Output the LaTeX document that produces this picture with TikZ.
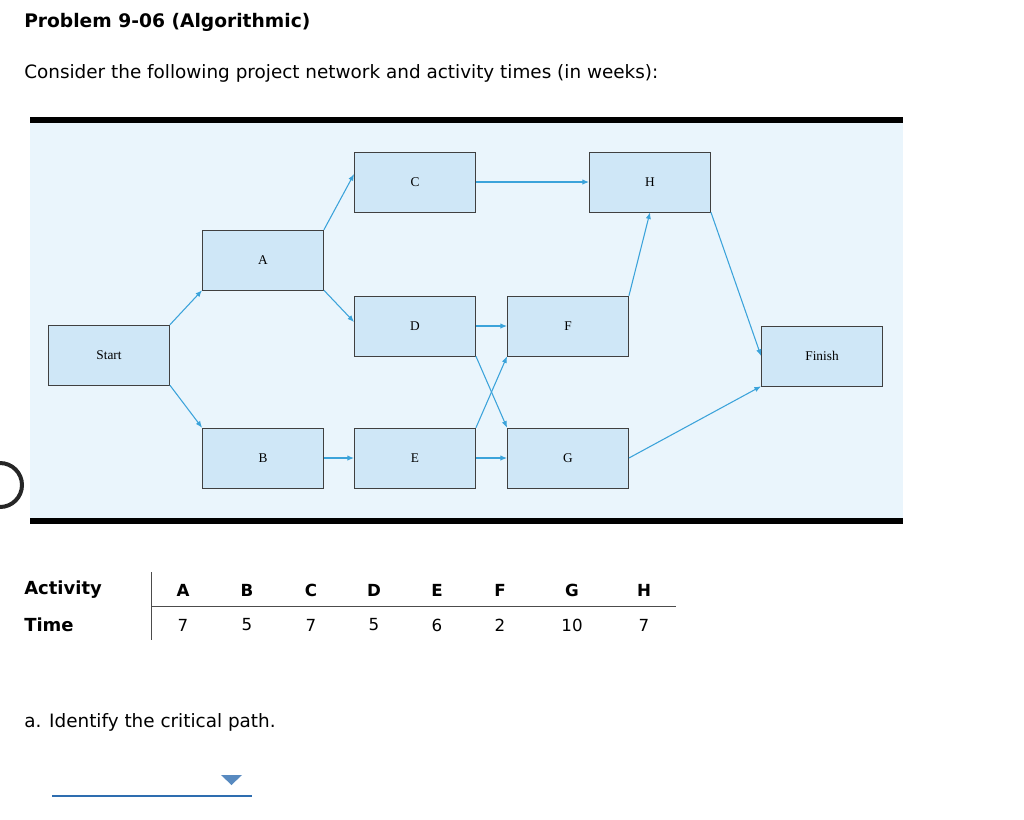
\documentclass[tikz,border=0pt]{standalone}
\usepackage{fontspec}
\usetikzlibrary{arrows.meta}
\setmainfont{DejaVu Sans}
\newfontfamily\boxfont{Liberation Serif}
\begin{document}
\begin{tikzpicture}[x=0.75pt,y=-0.75pt,
  act/.style={draw=black!75,fill=boxblue,minimum width=91pt,minimum height=45pt,inner sep=0pt,font=\boxfont\fontsize{10}{12}\selectfont},
  arr/.style={draw=arrblue,line width=0.8pt,-{Latex[length=5pt,width=4pt]}},
  txt/.style={anchor=west,inner sep=0pt,font=\fontsize{13.8}{16}\selectfont},
  tb/.style={inner sep=0pt,font=\bfseries\fontsize{12.5}{14}\selectfont},
  tn/.style={inner sep=0pt,font=\fontsize{12.5}{14}\selectfont}]
\definecolor{boxblue}{HTML}{CFE7F7}
\definecolor{bgblue}{HTML}{EAF5FC}
\definecolor{arrblue}{HTML}{3BA3DA}
\definecolor{ddblue}{HTML}{2E6DB0}
\useasboundingbox (0,0) rectangle (1024,819);
\fill[bgblue] (30,120) rectangle (903,521);
\draw[line width=4.5pt] (30,120) -- (903,120);
\draw[line width=4.5pt] (30,521) -- (903,521);
\node[txt,font=\bfseries\fontsize{14}{16}\selectfont] (title) at (24,22) {Problem 9-06 (Algorithmic)};
\node[txt] (intro) at (24,73) {Consider the following project network and activity times (in weeks):};
\node[act] (S) at (109,355) {Start};
\node[act] (A) at (263,260) {A};
\node[act] (C) at (415,182) {C};
\node[act] (H) at (650,182) {H};
\node[act] (D) at (415,326) {D};
\node[act] (F) at (568,326) {F};
\node[act] (Fi) at (822,356) {Finish};
\node[act] (B) at (263,458) {B};
\node[act] (E) at (415,458) {E};
\node[act] (G) at (568,458) {G};
\draw[arr] (S.north east) -- (A.south west);
\draw[arr] (S.south east) -- (B.north west);
\draw[arr] (A.north east) -- ([yshift=6pt]C.west);
\draw[arr] (A.south east) -- ([yshift=3pt]D.west);
\draw[arr] (C) -- (H);
\draw[arr] (D) -- (F);
\draw[arr] (D.south east) -- (G.north west);
\draw[arr] (E.north east) -- (F.south west);
\draw[arr] (B) -- (E);
\draw[arr] (E) -- (G);
\draw[arr] (F.north east) -- (H.south);
\draw[arr] (H.south east) -- (Fi.west);
\draw[arr] (G.east) -- (Fi.south west);
\draw[line width=3pt,black!85] (0,485) circle (22);
\node[txt,font=\bfseries\fontsize{13.5}{16}\selectfont] (act) at (24,590) {Activity};
\node[txt,font=\bfseries\fontsize{13.5}{16}\selectfont] (time) at (24,625) {Time};
\draw[black!70] (151,572) -- (151,640);
\draw[black!70] (151,606) -- (676,606);
\foreach \l/\t/\x in {A/7/183,B/5/247,C/7/311,D/5/374,E/6/437,F/2/500,G/10/572,H/7/644}{
  \node[tb] (h\l) at (\x,590) {\l};
  \node[tn] (t\l) at (\x,625) {\t};
}
\node[txt] (qa) at (24,722) {a. Identify the critical path.};
\draw[ddblue,line width=1.5pt] (52,796) -- (252,796);
\fill[ddblue!80] (221,775) -- (242,775) -- (231.5,785) -- cycle;
\end{tikzpicture}
\end{document}
